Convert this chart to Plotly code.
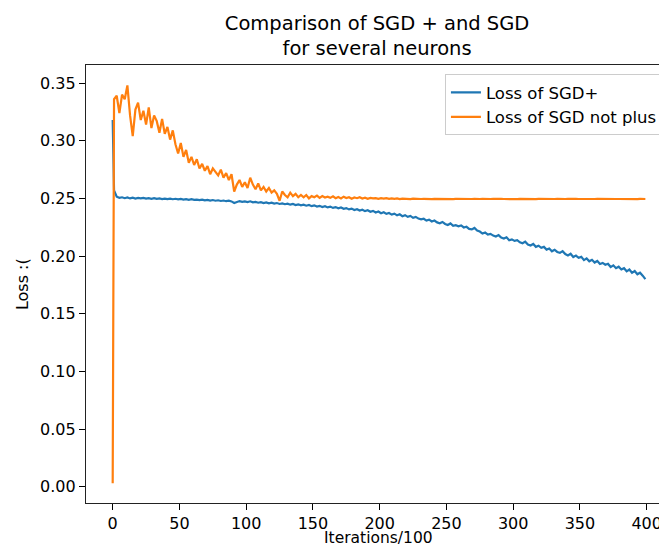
import plotly.graph_objects as go

iters = [0, 1] + list(range(3, 400, 2))

loss_sgd_plus = [
    0.318, 0.257,
    0.2515, 0.2505, 0.2510, 0.2502, 0.2508, 0.2500, 0.2506, 0.2499, 0.2504, 0.2500,
    0.2505, 0.2498, 0.2502, 0.2497, 0.2503, 0.2496, 0.2500, 0.2495, 0.2499, 0.2494,
    0.2498, 0.2493, 0.2497, 0.2492, 0.2496, 0.2490, 0.2494, 0.2488, 0.2493, 0.2487,
    0.2490, 0.2485, 0.2489, 0.2483, 0.2487, 0.2481, 0.2486, 0.2480, 0.2484, 0.2478,
    0.2482, 0.2476, 0.2480, 0.2474, 0.2460, 0.2468, 0.2477, 0.2470, 0.2474, 0.2468,
    0.2475, 0.2466, 0.2470, 0.2463, 0.2468, 0.2460, 0.2465, 0.2458, 0.2463, 0.2455,
    0.2460, 0.2452, 0.2457, 0.2450, 0.2455, 0.2446, 0.2452, 0.2443, 0.2449, 0.2440,
    0.2446, 0.2437, 0.2443, 0.2433, 0.2440, 0.2430, 0.2436, 0.2426, 0.2433, 0.2422,
    0.2429, 0.2418, 0.2425, 0.2414, 0.2421, 0.2410, 0.2416, 0.2405, 0.2412, 0.2400,
    0.2407, 0.2395, 0.2402, 0.2390, 0.2397, 0.2384, 0.2392, 0.2378, 0.2386, 0.2372,
    0.2380, 0.2366, 0.2374, 0.2360, 0.2368, 0.2353, 0.2362, 0.2346, 0.2355, 0.2340,
    0.2348, 0.2332, 0.2340, 0.2325, 0.2318, 0.2324, 0.2308, 0.2316, 0.2300, 0.2308,
    0.2292, 0.2285, 0.2296, 0.2279, 0.2270, 0.2283, 0.2262, 0.2268, 0.2259, 0.2266,
    0.2248, 0.2254, 0.2236, 0.2231, 0.2244, 0.2222, 0.2213, 0.2195, 0.2204, 0.2186,
    0.2193, 0.2178, 0.2170, 0.2182, 0.2160, 0.2152, 0.2163, 0.2138, 0.2145, 0.2132,
    0.2138, 0.2120, 0.2111, 0.2125, 0.2100, 0.2092, 0.2105, 0.2080, 0.2090, 0.2072,
    0.2080, 0.2056, 0.2066, 0.2042, 0.2055, 0.2036, 0.2028, 0.2043, 0.2018, 0.2006,
    0.2020, 0.1992, 0.2004, 0.1985, 0.1993, 0.1965, 0.1980, 0.1955, 0.1968, 0.1944,
    0.1958, 0.1932, 0.1941, 0.1925, 0.1933, 0.1905, 0.1920, 0.1895, 0.1908, 0.1884,
    0.1895, 0.1868, 0.1883, 0.1855, 0.1870, 0.1842, 0.1856, 0.1830, 0.1800,
]

loss_sgd_not_plus = [
    0.003, 0.336,
    0.339, 0.324, 0.340, 0.336, 0.348, 0.322, 0.304, 0.327, 0.333, 0.318,
    0.326, 0.314, 0.329, 0.311, 0.322, 0.317, 0.307, 0.319, 0.306, 0.312,
    0.301, 0.309, 0.297, 0.289, 0.298, 0.286, 0.292, 0.281, 0.286, 0.279,
    0.284, 0.276, 0.280, 0.274, 0.278, 0.271, 0.276, 0.273, 0.270, 0.275,
    0.268, 0.272, 0.266, 0.271, 0.256, 0.262, 0.266, 0.260, 0.264, 0.259,
    0.268, 0.262, 0.258, 0.263, 0.257, 0.260, 0.256, 0.259, 0.255, 0.257,
    0.254, 0.248, 0.256, 0.253, 0.251, 0.255, 0.252, 0.254, 0.251, 0.253,
    0.251, 0.253, 0.250, 0.252, 0.251, 0.2525, 0.2505, 0.252, 0.2508, 0.2515,
    0.2505, 0.2518, 0.2502, 0.2512, 0.2500, 0.2515, 0.2504, 0.2510, 0.2498, 0.2508,
    0.2502, 0.2511, 0.2499, 0.2506, 0.2497, 0.2505, 0.2500, 0.2503, 0.2496, 0.2502,
    0.2498, 0.2503, 0.2496, 0.2501, 0.2497, 0.2500, 0.2495, 0.2499, 0.2496, 0.2498,
    0.2494, 0.2499, 0.2496, 0.2498, 0.2495, 0.2497, 0.2495, 0.2497, 0.2494, 0.2496,
    0.2495, 0.2497, 0.2494, 0.2496, 0.2495, 0.2496, 0.2494, 0.2496, 0.2495, 0.2495,
    0.2496, 0.2494, 0.2496, 0.2495, 0.2497, 0.2494, 0.2495, 0.2496, 0.2494, 0.2495,
    0.2495, 0.2496, 0.2494, 0.2495, 0.2496, 0.2495, 0.2494, 0.2496, 0.2495, 0.2495,
    0.2494, 0.2496, 0.2495, 0.2495, 0.2494, 0.2496, 0.2495, 0.2494, 0.2496, 0.2495,
    0.2495, 0.2494, 0.2496, 0.2495, 0.2495, 0.2496, 0.2494, 0.2495, 0.2495, 0.2496,
    0.2494, 0.2495, 0.2496, 0.2495, 0.2494, 0.2495, 0.2496, 0.2495, 0.2494, 0.2495,
    0.2496, 0.2495, 0.2494, 0.2495, 0.2495, 0.2496, 0.2494, 0.2495, 0.2495, 0.2494,
    0.2495, 0.2496, 0.2494, 0.2495, 0.2495, 0.2494, 0.2496, 0.2495, 0.2495,
]

x_ticks = [0, 50, 100, 150, 200, 250, 300, 350, 400]
y_ticks = [0.00, 0.05, 0.10, 0.15, 0.20, 0.25, 0.30, 0.35]

FONT = "DejaVu Sans"

fig = go.Figure()
fig.add_trace(go.Scatter(x=iters, y=loss_sgd_plus, mode="lines", name="Loss of SGD+",
                         line=dict(color="#1f77b4", width=2.2)))
fig.add_trace(go.Scatter(x=iters, y=loss_sgd_not_plus, mode="lines", name="Loss of SGD not plus",
                         line=dict(color="#ff7f0e", width=2.2)))

fig.update_layout(
    width=659, height=540,
    margin=dict(l=78, r=0, t=57, b=45),
    paper_bgcolor="white", plot_bgcolor="white",
    font=dict(family=FONT, size=16, color="black"),
    title=dict(text="Comparison of SGD + and SGD<br>for several neurons",
               x=0.501, xref="paper", xanchor="center",
               y=1 - 21.5 / 540, yref="container", yanchor="middle",
               font=dict(family=FONT, size=19.5, color="black")),
    showlegend=True,
    legend=dict(x=0.993, xanchor="right", y=0.979, yanchor="top",
                bgcolor="rgba(255,255,255,0.8)", bordercolor="#cccccc", borderwidth=1,
                font=dict(family=FONT, size=16.5, color="black"),
                itemwidth=30, tracegroupgap=2),
    xaxis=dict(range=[-20, 415.2], tickvals=x_ticks, ticks="outside", ticklen=6,
               tickcolor="black", tickfont=dict(size=16), showline=True,
               linecolor="#222222", linewidth=1.3, automargin=False,
               mirror=True, showgrid=False, zeroline=False),
    yaxis=dict(range=[-0.0141, 0.3657], tickvals=y_ticks, tickformat=".2f",
               ticks="outside", ticklen=6, tickcolor="black", tickfont=dict(size=16),
               showline=True, linecolor="#222222", linewidth=1.3, showgrid=False,
               zeroline=False, automargin=False),
    annotations=[
        dict(text="Iterations/100", xref="paper", yref="paper", x=0.503, y=-0.080,
             xanchor="center", yanchor="middle", showarrow=False, borderpad=0,
             font=dict(family=FONT, size=15.5, color="black")),
        dict(text="Loss :(", xref="paper", yref="paper", x=-0.110, y=0.5,
             xanchor="center", yanchor="middle", textangle=-90, showarrow=False,
             font=dict(family=FONT, size=16, color="black")),
    ],
)

fig.write_html("out.html")
